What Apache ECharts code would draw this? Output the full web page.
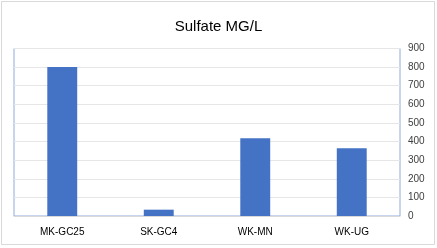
<!DOCTYPE html>
<html>
<head>
<meta charset="utf-8">
<style>
  html, body { margin: 0; padding: 0; background: #fff; }
  #chart { width: 437px; height: 248px; }
</style>
<script src="https://cdn.jsdelivr.net/npm/echarts@6/dist/echarts.min.js"></script>
</head>
<body>
<div id="chart"></div>
<script>
const categories = ['MK-GC25', 'SK-GC4', 'WK-MN', 'WK-UG']
const sulfate = [800, 34, 418, 364]

const myChart = echarts.init(document.getElementById('chart'))

const option = {
  backgroundColor: '#fff',
  animation: false,
  title: {
    text: 'Sulfate MG/L',
    left: 'center',
    top: 14,
    textStyle: {
      fontFamily: 'Liberation Sans',
      fontSize: 15,
      fontWeight: 'normal',
      color: '#000',
    },
  },
  graphic: [
    {
      type: 'rect',
      shape: { x: 1.5, y: 1.5, width: 433, height: 243 },
      style: { fill: 'none', stroke: '#d9d9d9', lineWidth: 1 },
      z: -1,
    },
  ],
  grid: {
    left: 14,
    right: 37,
    top: 48.5,
    bottom: 32,
    show: true,
    borderColor: '#8faadc',
    borderWidth: 1,
  },
  xAxis: {
    type: 'category',
    data: categories,
    axisLine: { lineStyle: { color: '#d9d9d9' } },
    axisTick: { show: false },
    axisLabel: {
      fontFamily: 'Liberation Sans',
      fontSize: 10,
      color: '#000',
      margin: 11,
    },
  },
  yAxis: {
    type: 'value',
    position: 'right',
    min: 0,
    max: 900,
    interval: 100,
    axisLine: { show: false },
    axisTick: { show: false },
    splitLine: { lineStyle: { color: '#e6e6e6' } },
    axisLabel: {
      fontFamily: 'Liberation Sans',
      fontSize: 10,
      color: '#404040',
      margin: 8,
    },
  },
  series: [
    {
      type: 'bar',
      data: sulfate,
      barWidth: '31%',
      itemStyle: { color: '#4472c4' },
    },
  ],
}

myChart.setOption(option, true)
</script>
</body>
</html>
